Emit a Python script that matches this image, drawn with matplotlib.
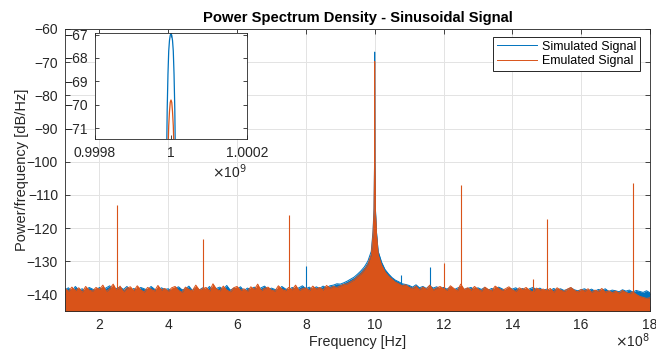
import numpy as np
import matplotlib
matplotlib.use("Agg")
import matplotlib.pyplot as plt

plt.rcParams['font.family'] = ['Liberation Sans', 'DejaVu Sans']

# noise floor (top of the band), read every 0.1e8 Hz from 1e8 to 18e8
freq_floor = np.round(np.arange(1.0, 18.05, 0.1), 1) * 1e8

emu_floor = [
    -138.2, -139.1, -137.8, -138.9, -138.0, -139.3, -137.6, -138.7, -139.0, -137.9,
    -138.5, -137.2, -139.1, -138.3, -136.9, -138.8, -137.5, -139.2, -138.1, -137.7,
    -138.9, -137.4, -138.6, -139.3, -137.9, -138.4, -139.0, -137.3, -138.7, -138.2,
    -139.1, -138.0, -137.6, -138.8, -139.4, -137.8, -138.5, -138.9, -137.2, -138.6,
    -138.3, -137.9, -139.0, -136.8, -138.4, -138.9, -137.5, -138.7, -139.2, -138.0,
    -137.6, -138.8, -138.3, -139.1, -137.7, -138.5, -136.9, -138.9, -138.2, -137.8,
    -138.7, -139.0, -137.4, -138.4, -138.9, -137.9, -138.6, -137.2, -138.8, -138.3,
    -138.0, -138.9, -137.5, -138.4, -137.9, -138.7, -137.3, -138.1, -137.6, -137.9,
    -137.4, -137.0, -136.8, -136.2, -135.6, -134.6, -133.8, -132.6, -131.0, -128.0,
    -110.0, -128.0, -131.2, -133.2, -134.5, -135.4, -136.3, -136.8, -137.4, -137.1,
    -137.9, -138.2, -137.5, -138.6, -137.8, -138.4, -137.2, -138.7, -138.1, -137.6,
    -138.3, -138.8, -137.4, -138.2, -138.9, -136.9, -138.5, -138.0, -138.7, -137.6,
    -138.4, -139.0, -137.8, -138.5, -138.9, -137.5, -138.2, -138.8, -138.3, -137.7,
    -138.6, -139.1, -138.0, -138.5, -137.9, -138.8, -139.2, -138.1, -138.6, -138.4,
    -138.9, -138.2, -139.3, -138.0, -138.7, -139.1, -138.4, -137.9, -138.8, -139.2,
    -138.5, -139.0, -138.3, -139.4, -138.7, -139.1, -138.2, -139.3, -138.9, -139.5,
    -139.0, -139.6, -138.8, -139.4, -139.8, -139.2, -140.0, -140.6, -140.9, -141.2,
    -141.0,
]

sim_floor = [
    -138.6, -138.0, -139.2, -137.6, -138.7, -138.3, -139.0, -137.9, -138.4, -138.8,
    -137.9, -138.6, -138.0, -137.4, -138.9, -138.2, -137.8, -138.5, -137.6, -138.9,
    -138.2, -138.8, -137.9, -138.3, -138.7, -137.6, -138.4, -138.9, -138.0, -138.5,
    -138.3, -138.9, -138.2, -137.7, -138.6, -138.4, -137.5, -138.8, -138.1, -138.7,
    -138.0, -138.6, -137.6, -138.9, -138.2, -137.8, -138.5, -137.3, -138.7, -138.2,
    -138.4, -137.7, -138.9, -138.1, -138.5, -137.8, -138.6, -138.0, -137.5, -138.6,
    -138.1, -138.5, -138.8, -137.6, -138.3, -138.7, -137.9, -138.4, -138.0, -137.4,
    -138.3, -137.8, -138.6, -137.7, -138.2, -137.5, -138.0, -137.4, -137.2, -136.8,
    -136.9, -136.5, -136.0, -135.4, -134.8, -133.9, -132.9, -131.7, -130.0, -127.0,
    -110.0, -127.0, -130.3, -132.5, -133.8, -134.9, -135.7, -136.2, -136.8, -137.0,
    -137.3, -137.8, -137.1, -138.0, -137.6, -138.2, -137.4, -138.1, -137.7, -138.3,
    -137.9, -138.4, -137.8, -138.6, -138.1, -137.7, -138.5, -138.2, -137.9, -138.6,
    -138.0, -138.5, -137.9, -138.7, -138.2, -138.6, -137.8, -138.3, -138.8, -138.1,
    -138.4, -138.0, -138.7, -138.2, -138.9, -138.3, -137.9, -138.6, -138.1, -138.8,
    -138.4, -138.9, -138.2, -138.7, -138.3, -138.8, -138.5, -138.0, -138.6, -138.9,
    -138.6, -138.3, -138.9, -138.4, -139.0, -138.5, -138.8, -138.3, -139.1, -138.7,
    -138.9, -139.2, -138.6, -139.0, -138.7, -139.3, -138.8, -139.1, -139.4, -138.9,
    -139.5,
]

# main tone at 1 GHz, offsets in Hz
core_offset = [-1e7, -5e6, -2e6, -5e5, -1.2e4, -1e4, -8e3, -6e3, -4e3, -2e3, 0,
               2e3, 4e3, 6e3, 8e3, 1e4, 1.2e4, 5e5, 2e6, 5e6, 1e7]
sim_core = [-127.0, -121.0, -114.0, -100.0, -72.8, -70.2, -68.7, -67.7, -67.25, -67.03, -66.95,
            -67.03, -67.25, -67.7, -68.7, -70.2, -72.8, -100.0, -114.0, -121.0, -127.0]
emu_core = [-128.0, -122.0, -115.0, -101.0, -75.0, -73.5, -72.0, -70.9, -70.3, -69.9, -69.8,
            -69.9, -70.3, -70.9, -72.0, -73.5, -75.0, -101.0, -115.0, -122.0, -128.0]

# spurs
emu_spur_f = [2.5e8, 5.0e8, 7.5e8, 12.0e8, 12.5e8, 14.6e8, 15.0e8, 17.5e8]
emu_spur_db = [-113.0, -123.2, -116.0, -130.4, -107.0, -135.5, -117.4, -106.5]
sim_spur_f = [8.0e8, 10.77e8, 11.6e8]
sim_spur_db = [-131.3, -134.0, -131.6]

BLUE = '#0072BD'
ORANGE = '#D95319'
AX_COL = '#262626'
GRID_COL = '#e3e3e3'


def build(floor, core):
    floor = np.asarray(floor)
    keep = np.abs(freq_floor - 1e9) > 1.5e7
    f = np.concatenate([freq_floor[keep], 1e9 + np.asarray(core_offset)])
    y = np.concatenate([floor[keep], np.asarray(core)])
    order = np.argsort(f)
    return f[order], y[order]


f_sim, y_sim = build(sim_floor, sim_core)
f_emu, y_emu = build(emu_floor, emu_core)

fig = plt.figure(figsize=(6.56, 3.52), dpi=100)
ax = fig.add_axes([65 / 656, 41 / 352, 585 / 656, 282 / 352])

ax.grid(True, color=GRID_COL, linewidth=0.7, zorder=0)
ax.set_axisbelow(True)

ax.fill_between(f_sim, -160, y_sim, color=BLUE, linewidth=0, zorder=1)
ax.plot(f_sim, y_sim, color=BLUE, linewidth=0.7, zorder=1, label='Simulated Signal')
ax.vlines(sim_spur_f, -160, sim_spur_db, color=BLUE, linewidth=0.8, zorder=1)

ax.fill_between(f_emu, -160, y_emu, color=ORANGE, linewidth=0, zorder=2)
ax.plot(f_emu, y_emu, color=ORANGE, linewidth=0.7, zorder=2, label='Emulated Signal')
ax.vlines(emu_spur_f, -160, emu_spur_db, color=ORANGE, linewidth=0.8, zorder=2)

ax.set_xlim(1e8, 18e8)
ax.set_ylim(-145, -60)
xt = np.arange(2, 19, 2)
ax.set_xticks(xt * 1e8)
ax.set_xticklabels([str(v) for v in xt])
ax.set_yticks(np.arange(-140, -59, 10))
ax.tick_params(direction='in', length=3.5, width=0.6, top=True, right=True,
               labelsize=10, colors=AX_COL, pad=5)
for s in ax.spines.values():
    s.set_color(AX_COL)
    s.set_linewidth(0.6)

ax.set_xlabel('Frequency [Hz]', fontsize=10.3, color=AX_COL, labelpad=2)
ax.set_ylabel('Power/frequency [dB/Hz]', fontsize=10.5, color=AX_COL, labelpad=-1.5)
ax.set_title('Power Spectrum Density - Sinusoidal Signal', fontsize=10.6,
             fontweight='bold', color='black', pad=5)
ax.text(1.0, -0.138, r'$\times$10$^8$', transform=ax.transAxes, ha='right', va='bottom',
        fontsize=10, color=AX_COL)

leg = ax.legend(loc='upper right', bbox_to_anchor=(0.983, 0.972), borderaxespad=0,
                fontsize=9, frameon=True, fancybox=False, framealpha=1,
                handlelength=3.2, handletextpad=0.4, labelspacing=0.2, borderpad=0.3)
leg.get_frame().set_edgecolor(AX_COL)
leg.get_frame().set_linewidth(0.7)

# inset zoom on the tone
ins = fig.add_axes([95 / 656, 213 / 352, 152 / 656, 106 / 352])
ins.plot(f_sim, y_sim, color=BLUE, linewidth=0.9)
ins.plot(f_emu, y_emu, color=ORANGE, linewidth=0.9)
ins.set_xlim(0.9998e9, 1.0002e9)
ins.set_ylim(-71.47, -66.93)
ins.set_xticks([0.9998e9, 1e9, 1.0002e9])
ins.set_xticklabels(['0.9998', '1', '1.0002'])
ins.set_yticks([-71, -70, -69, -68, -67])
ins.tick_params(direction='in', length=3, width=0.6, top=True, right=True,
                labelsize=10, colors=AX_COL, pad=5)
for s in ins.spines.values():
    s.set_color(AX_COL)
    s.set_linewidth(0.6)
ins.text(1.0, -0.4, r'$\times$10$^9$', transform=ins.transAxes, ha='right', va='bottom',
         fontsize=10, color=AX_COL)

fig.savefig('out.png', dpi=100)
